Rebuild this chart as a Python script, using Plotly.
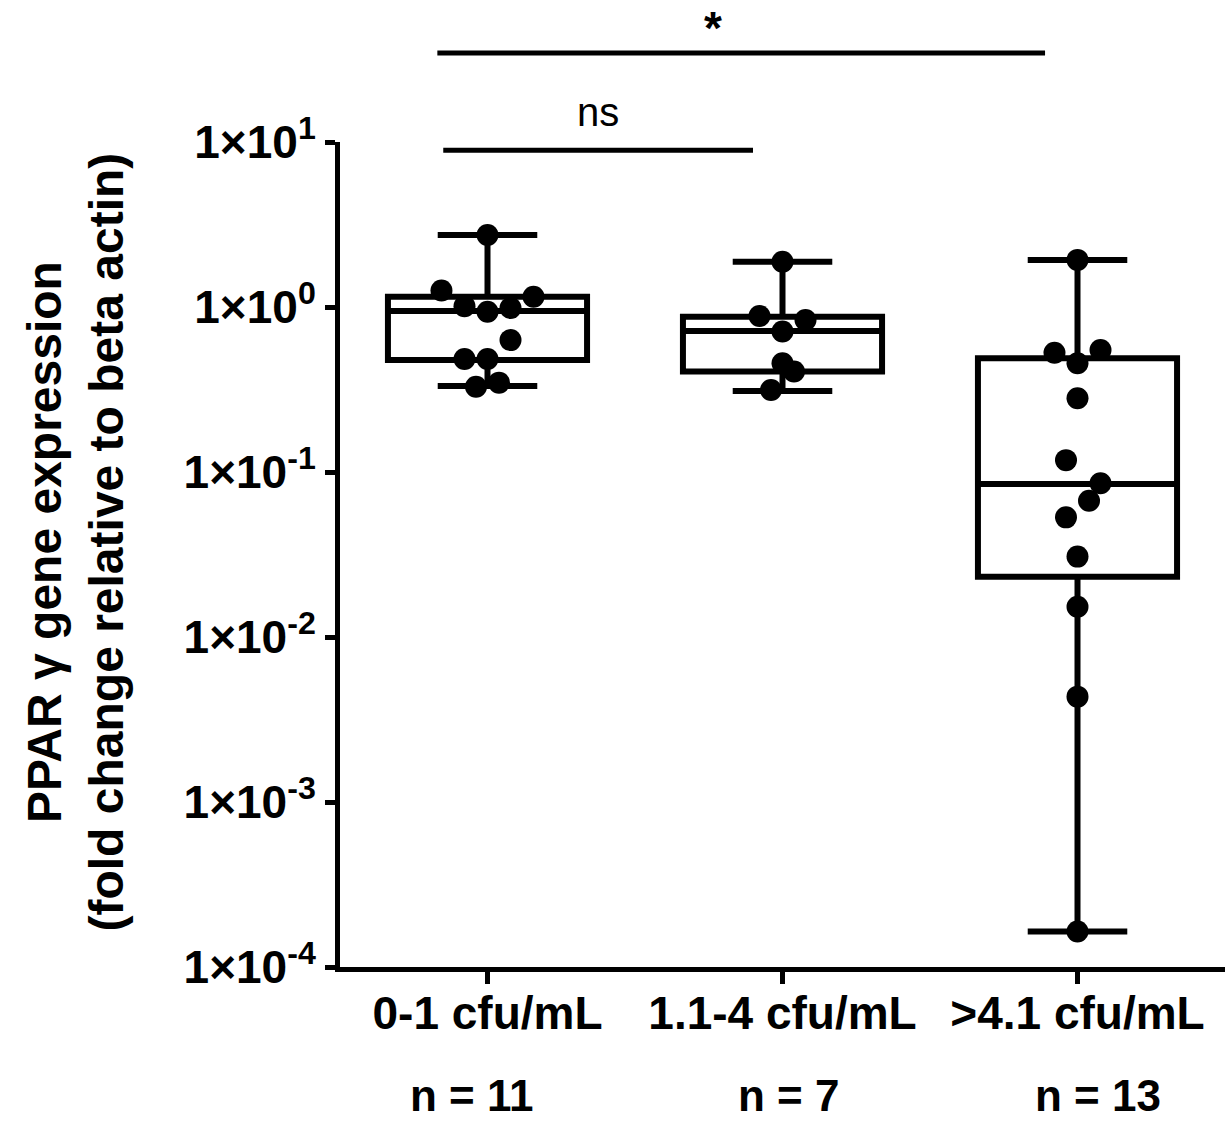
import plotly.graph_objects as go

categories = ["0-1 cfu/mL", "1.1-4 cfu/mL", ">4.1 cfu/mL"]
n_labels = ["n = 11", "n = 7", "n = 13"]

# individual points (fold change)
g1_values = [2.73, 1.26, 1.01, 0.937, 0.986, 1.155, 0.63, 0.484, 0.484, 0.329, 0.348]
g2_values = [1.88, 0.882, 0.834, 0.71, 0.456, 0.406, 0.314]
g3_values = [1.93, 0.528, 0.549, 0.456, 0.28, 0.118, 0.0854, 0.067, 0.0531, 0.0307,
             0.01527, 0.00435, 0.000164]

# horizontal jitter slots of each point (in slot steps)
g1_slots = [0, -2, -1, 0, 1, 2, 1, -1, 0, -0.5, 0.5]
g2_slots = [0, -1, 1, 0, 0, 0.5, -0.5]
g3_slots = [0, -1, 1, 0, 0, -0.5, 1, 0.5, -0.5, 0, 0, 0, 0]

# box statistics (min / q1 / median / q3 / max)
box_min = [0.332, 0.31, 0.000164]
box_q1 = [0.477, 0.406, 0.0232]
box_median = [0.946, 0.716, 0.0846]
box_q3 = [1.155, 0.873, 0.489]
box_max = [2.73, 1.88, 1.93]

tick_vals = [1e-4, 1e-3, 1e-2, 1e-1, 1e0, 1e1]
tick_text = ["1×10<sup>-4</sup>", "1×10<sup>-3</sup>", "1×10<sup>-2</sup>",
             "1×10<sup>-1</sup>", "1×10<sup>0</sup>", "1×10<sup>1</sup>"]

FONT = "Liberation Sans, Arial, sans-serif"
STEP = 0.078
LW = 6

fig = go.Figure()
fig.add_trace(go.Box(
    x=[0, 1, 2], q1=box_q1, median=box_median, q3=box_q3,
    lowerfence=box_min, upperfence=box_max,
    width=0.675, whiskerwidth=0.5,
    fillcolor="white", line=dict(color="black", width=LW),
    boxpoints=False, hoverinfo="skip", showlegend=False,
))

xs, ys = [], []
for gi, (vals, slots) in enumerate([(g1_values, g1_slots), (g2_values, g2_slots), (g3_values, g3_slots)]):
    for v, s in zip(vals, slots):
        xs.append(gi + s * STEP)
        ys.append(v)
fig.add_trace(go.Scatter(x=xs, y=ys, mode="markers",
                         marker=dict(color="black", size=22),
                         showlegend=False, cliponaxis=False))

# n labels
n_shift = [-16, 6, 20]
for i, t in enumerate(n_labels):
    fig.add_annotation(x=i, y=-0.156, xref="x", yref="paper", text="<b>%s</b>" % t,
                       showarrow=False, xshift=n_shift[i],
                       font=dict(family=FONT, size=44, color="black"), yanchor="middle")

# significance brackets
comparisons = [(0, 1, "ns"), (0, 2, "*")]
for a, b, label in comparisons:
    if label == "ns":
        x0, x1, yl, yt, txt, fs, xs_ = a - 0.15, b - 0.10, 0.990, 1.036, "ns", 40, 0
    else:
        x0, x1, yl, yt, txt, fs, xs_ = a - 0.17, b - 0.11, 1.108, 1.138, "<b>*</b>", 46, -28
    fig.add_shape(type="line", x0=x0, x1=x1, y0=yl, y1=yl, xref="x", yref="paper",
                  line=dict(color="black", width=5))
    fig.add_annotation(x=(x0 + x1) / 2, y=yt, xref="x", yref="paper", xshift=xs_,
                       text=txt, showarrow=False,
                       font=dict(family=FONT, size=fs, color="black"), yanchor="middle")

# y-axis title as annotation
fig.add_annotation(x=0, y=0.5, xref="paper", yref="paper", xshift=-265, yshift=12,
                   text="<b>PPAR γ gene expression<br>(fold change relative to beta actin)</b>",
                   textangle=-90, showarrow=False, xanchor="center", yanchor="middle",
                   font=dict(family=FONT, size=48, color="black"))

fig.update_layout(
    width=1229, height=1124,
    margin=dict(l=340, r=4, t=142, b=157),
    plot_bgcolor="white", paper_bgcolor="white",
    font=dict(family=FONT, color="black"),
)
fig.update_xaxes(
    range=[-0.5, 2.5], tickvals=[0, 1, 2],
    ticktext=["<b>%s</b>" % c for c in categories],
    showline=True, linecolor="black", linewidth=5,
    ticks="outside", ticklen=12, tickwidth=5, tickcolor="black",
    tickfont=dict(family=FONT, size=46, color="black"),
    ticklabelstandoff=-10,
    showgrid=False, zeroline=False,
)
fig.update_yaxes(
    type="log", range=[-4, 1], tickvals=tick_vals,
    ticktext=["<b>%s</b>" % t for t in tick_text],
    showline=True, linecolor="black", linewidth=5,
    ticks="outside", ticklen=10, tickwidth=5, tickcolor="black",
    tickfont=dict(family=FONT, size=46, color="black"),
    showgrid=False, zeroline=False,
)

fig.write_html("out.html")
